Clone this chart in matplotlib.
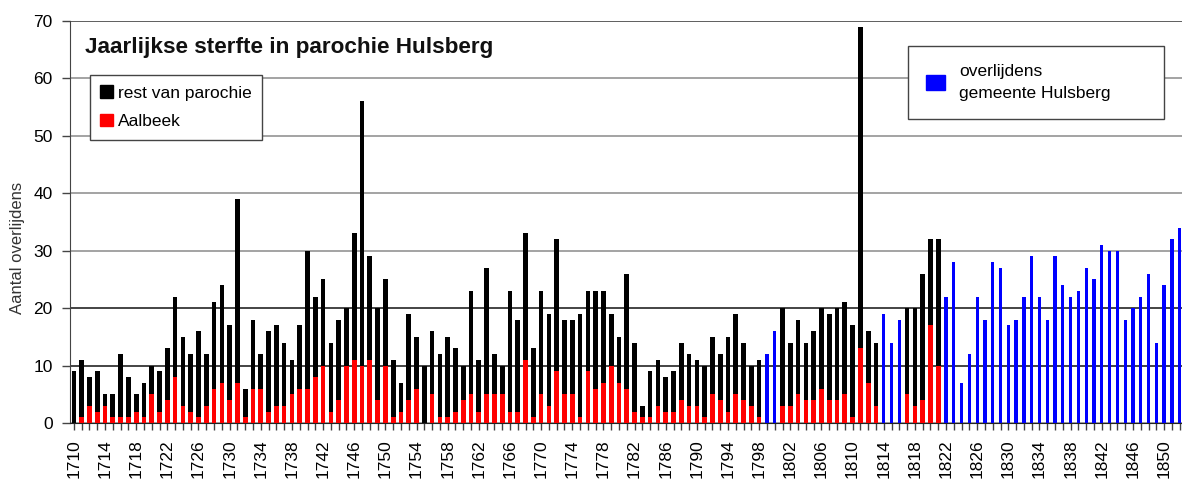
import matplotlib
matplotlib.use("Agg")
import matplotlib.pyplot as plt
from matplotlib.patches import Patch
import numpy as np

plt.rcParams['font.family'] = ['Liberation Sans', 'DejaVu Sans']

# parochie Hulsberg, totals per year and the Aalbeek part of it
parish_years = list(range(1710, 1799)) + list(range(1801, 1814)) + list(range(1817, 1822))
parish_total = [
    9, 11, 8, 9, 5, 5, 12, 8, 5, 7,          # 1710-1719
    10, 9, 13, 22, 15, 12, 16, 12, 21, 24,   # 1720-1729
    17, 39, 6, 18, 12, 16, 17, 14, 11, 17,   # 1730-1739
    30, 22, 25, 14, 18, 20, 33, 56, 29, 20,  # 1740-1749
    25, 11, 7, 19, 15, 10, 16, 12, 15, 13,   # 1750-1759
    10, 23, 11, 27, 12, 10, 23, 18, 33, 13,  # 1760-1769
    23, 19, 32, 18, 18, 19, 23, 23, 23, 19,  # 1770-1779
    15, 26, 14, 3, 9, 11, 8, 9, 14, 12,      # 1780-1789
    11, 10, 15, 12, 15, 19, 14, 10, 11,      # 1790-1798
    20, 14, 18, 14, 16, 20, 19, 20, 21, 17, 69, 16, 14,  # 1801-1813
    20, 20, 26, 32, 32,                      # 1817-1821
]
aalbeek = [
    0, 1, 3, 2, 3, 1, 1, 1, 2, 1,
    5, 2, 4, 8, 3, 2, 1, 3, 6, 7,
    4, 7, 1, 6, 6, 2, 3, 3, 5, 6,
    6, 8, 10, 2, 4, 10, 11, 10, 11, 4,
    10, 1, 2, 4, 6, 0, 5, 1, 1, 2,
    4, 5, 2, 5, 5, 5, 2, 2, 11, 1,
    5, 3, 9, 5, 5, 1, 9, 6, 7, 10,
    7, 6, 2, 1, 1, 3, 2, 2, 4, 3,
    3, 1, 5, 4, 2, 5, 4, 3, 1,
    3, 3, 5, 4, 4, 6, 4, 4, 5, 1, 13, 7, 3,
    5, 3, 4, 17, 10,
]
rest_parochie = [t - a for t, a in zip(parish_total, aalbeek)]

# gemeente Hulsberg
gemeente_years = [1799, 1800, 1814, 1815, 1816] + list(range(1822, 1853))
gemeente = [
    12, 16, 19, 14, 18,
    22, 28, 7, 12, 22, 18, 28, 27, 17, 18,   # 1822-1831
    22, 29, 22, 18, 29, 24, 22, 23, 27, 25,  # 1832-1841
    31, 30, 30, 18, 20, 22, 26, 14, 24, 32,  # 1842-1851
    34,                                      # 1852
]

all_years = list(range(1710, 1853))
label_years = list(range(1710, 1853, 4))

fig = plt.figure(figsize=(11.82, 4.86), dpi=100)
ax = fig.add_axes([70 / 1182, 1 - 423 / 486, 1 - 70 / 1182, (423 - 21) / 486])

ax.bar(parish_years, aalbeek, width=0.6, color='#ff0000', zorder=3)
ax.bar(parish_years, rest_parochie, width=0.6, bottom=aalbeek, color='#000000', zorder=3)
ax.bar(gemeente_years, gemeente, width=0.42, color='#0000ff', zorder=3)

ax.set_xlim(1709.5, 1852.3)
ax.set_ylim(0, 70)
ax.set_yticks(range(0, 71, 10))
ax.set_xticks(all_years)
ax.set_xticklabels([str(y) if y in label_years else '' for y in all_years], rotation=90)

ax.tick_params(axis='y', direction='out', length=6, width=1, pad=6.5,
               labelsize=12.5, color='#444444')
ax.tick_params(axis='x', direction='out', length=5, width=1, pad=7,
               labelsize=12.5, color='#444444')

ax.grid(axis='y', color='#8a8a8a', linewidth=1.1, zorder=0)
ax.set_axisbelow(True)
for val, gl in zip(ax.get_yticks(), ax.yaxis.get_gridlines()):
    if val in (10, 20):
        gl.set_color('#111111')
    if val == 70:
        gl.set_color('#333333')

for side in ('top', 'right'):
    ax.spines[side].set_visible(False)
ax.spines['left'].set_color('#444444')
ax.spines['bottom'].set_color('#222222')

fig.text(18 / 1182, 1 - 248 / 486, 'Aantal overlijdens', rotation=90,
         ha='center', va='center', fontsize=12, color='#333333')

ax.text(0.0135, 0.933, 'Jaarlijkse sterfte in parochie Hulsberg', transform=ax.transAxes,
        ha='left', va='center', fontsize=16.2, fontweight='bold', color='#111111')

leg1 = ax.legend(handles=[Patch(color='#000000'), Patch(color='#ff0000')],
                 labels=['rest van parochie', 'Aalbeek'],
                 loc='upper left', bbox_to_anchor=(0.018, 0.866),
                 frameon=True, fancybox=False, framealpha=1, edgecolor='#444444',
                 fontsize=12.5, handlelength=0.75, handleheight=0.75,
                 handletextpad=0.25, labelspacing=0.75, borderpad=0.6,
                 borderaxespad=0)
leg1.get_frame().set_linewidth(1)
ax.add_artist(leg1)

leg2 = ax.legend(handles=[Patch(color='#0000ff')],
                 labels=['overlijdens\ngemeente Hulsberg'],
                 loc='upper left', bbox_to_anchor=(0.7536, 0.938, 0.2302, 0.0),
                 mode='expand',
                 frameon=True, fancybox=False, framealpha=1, edgecolor='#444444',
                 fontsize=12.5, handlelength=1.1, handleheight=1.0,
                 handletextpad=0.8, borderpad=1.05, borderaxespad=0)
leg2.get_frame().set_linewidth(1)
for t in leg2.get_texts():
    t.set_linespacing(1.55)

fig.savefig('out.png', dpi=100)
